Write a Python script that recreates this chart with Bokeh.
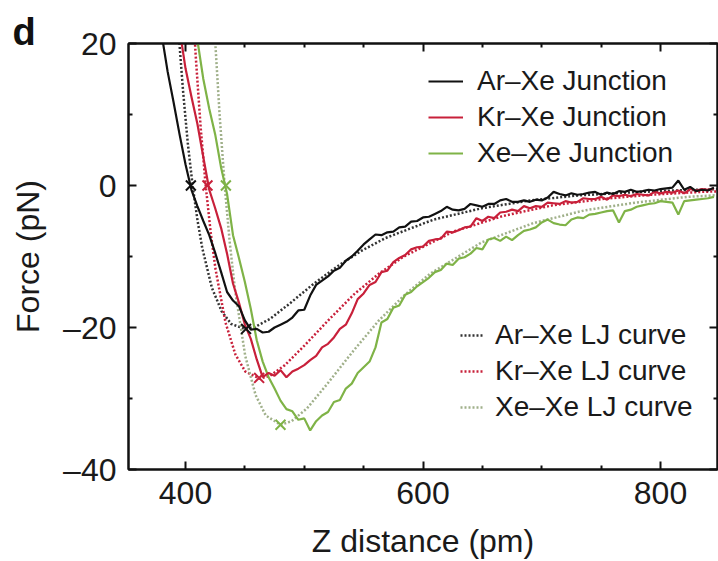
from bokeh.plotting import figure
from bokeh.models import (Range1d, LinearAxis, FixedTicker, Legend, LegendItem,
                          Label, CustomJSTickFormatter)
from bokeh.embed import file_html
from bokeh.resources import INLINE

FONT = "Liberation Sans"

# ---------------- data ----------------
# experimental junction curves, sampled every 5 pm
ar_x = list(range(380, 850, 5))
ar_y = [21.2, 16.0, 11.7, 7.2, 3.0, -0.6, -2.9, -5.0, -7.0, -9.5,
        -12.2, -15.0, -16.2, -17.0, -19.0, -20.3, -20.2, -20.7, -20.6, -20.0,
        -19.6, -19.2, -18.6, -17.6, -17.5, -15.5, -14.0, -13.4, -12.8, -12.0,
        -11.6, -10.6, -10.0, -9.2, -8.3, -7.6, -6.9, -7.0, -6.6, -6.5,
        -5.9, -5.8, -5.1, -5.0, -4.5, -4.4, -4.0, -3.6, -3.0, -3.4,
        -3.5, -3.3, -2.6, -2.8, -3.0, -2.6, -2.6, -2.1, -1.9, -2.3,
        -2.3, -2.1, -2.3, -2.0, -2.1, -1.7, -0.9, -1.2, -1.4, -1.1,
        -1.3, -1.2, -1.0, -0.9, -1.3, -1.0, -1.2, -0.8, -0.9, -0.6,
        -0.9, -0.8, -0.6, -0.7, -0.5, -0.4, -0.3, 0.7, -0.6, -0.2,
        -0.8, -0.6, -0.7, -0.3]

kr_x = list(range(395, 850, 5))
kr_y = [22.0, 16.5, 12.5, 8.7, 4.0, -0.6, -3.2, -6.0, -9.6, -13.8,
        -16.5, -19.6, -21.6, -24.5, -27.0, -26.4, -26.8, -26.0, -27.0, -26.2,
        -25.8, -25.3, -24.6, -24.0, -22.8, -22.3, -21.4, -20.2, -19.6, -18.0,
        -16.0, -15.2, -14.0, -13.6, -12.2, -12.0, -10.8, -10.2, -9.8, -9.0,
        -8.7, -8.6, -7.8, -7.6, -7.5, -6.5, -6.6, -6.3, -5.9, -5.8,
        -4.6, -5.0, -4.4, -4.6, -3.8, -3.7, -3.4, -3.6, -2.9, -3.2,
        -2.9, -3.0, -2.4, -2.5, -2.6, -2.2, -2.4, -2.3, -1.8, -1.9,
        -1.9, -1.6, -2.0, -1.4, -1.5, -1.3, -1.5, -1.2, -1.3, -1.4,
        -0.9, -1.1, -0.9, -1.0, -0.7, -1.1, -0.5, -0.7, -0.5, -0.6,
        -0.4]

xe_x = list(range(410, 850, 5))
xe_y = [20.5, 15.0, 10.8, 7.2, 2.5, -1.2, -7.0, -10.2, -13.6, -17.4,
        -21.8, -24.8, -27.0, -28.6, -30.3, -31.5, -31.8, -33.0, -32.8, -34.5,
        -33.2, -32.4, -31.9, -30.5, -30.2, -28.6, -27.9, -26.4, -25.6, -24.8,
        -22.8, -19.3, -18.8, -17.2, -16.9, -15.4, -15.0, -14.2, -13.6, -13.0,
        -12.2, -11.9, -11.0, -11.2, -10.3, -10.1, -9.6, -8.8, -9.0, -7.6,
        -7.4, -7.8, -7.2, -7.7, -7.0, -6.4, -6.2, -5.9, -5.2, -4.8,
        -5.3, -5.5, -5.6, -4.8, -4.5, -4.6, -4.1, -4.0, -3.8, -3.6,
        -3.5, -5.2, -3.6, -3.4, -3.0, -2.8, -2.6, -2.5, -2.2, -2.3,
        -2.4, -4.1, -2.2, -2.1, -2.0, -1.9, -1.8, -1.6]

# LJ curves
lj_ar_x = [385.7, 389.8, 393.8, 397.9, 401.9, 406.0, 410.1, 414.1, 422.2, 430.4,
           438.5, 450.1, 458.8, 471.0, 487.2, 507.5, 527.8, 548.1, 568.4, 609.0,
           649.6, 690.2, 730.8, 771.4, 812.0, 852.6]
lj_ar_y = [46.5, 33.3, 22.4, 13.4, 6.0, 0.0, -4.9, -8.8, -14.4, -17.7,
           -19.5, -20.2, -19.9, -18.8, -16.7, -13.9, -11.4, -9.2, -7.4, -4.8,
           -3.2, -2.1, -1.4, -1.0, -0.7, -0.5]
lj_kr_x = [396.2, 400.3, 404.5, 408.7, 412.8, 417.0, 421.2, 425.3, 433.7, 442.0,
           450.4, 462.3, 471.2, 483.7, 500.4, 521.3, 542.1, 563.0, 583.8, 625.5,
           667.2, 708.9, 750.6, 792.3, 834.0, 875.7]
lj_kr_y = [62.6, 44.8, 30.1, 18.0, 8.1, 0.0, -6.6, -11.8, -19.3, -23.8,
           -26.2, -27.2, -26.8, -25.3, -22.5, -18.8, -15.3, -12.4, -10.0, -6.5,
           -4.3, -2.8, -1.9, -1.3, -0.9, -0.7]
lj_xe_x = [411.4, 415.7, 420.0, 424.3, 428.7, 433.0, 437.3, 441.7, 450.3, 459.0,
           467.6, 480.1, 489.3, 502.3, 519.6, 541.3, 562.9, 584.6, 606.2, 649.5,
           692.8, 736.1, 779.4, 822.7, 866.0]
lj_xe_y = [77.6, 55.5, 37.3, 22.3, 10.0, 0.0, -8.1, -14.7, -24.0, -29.5,
           -32.4, -33.7, -33.2, -31.4, -27.9, -23.3, -19.0, -15.4, -12.4, -8.0,
           -5.3, -3.5, -2.4, -1.6, -1.2]

# cross markers (zero crossing and force minimum)
cross_ar_x = [404.5, 451.0]
cross_ar_y = [0.0, -20.2]
cross_kr_x = [418.5, 462.0]
cross_kr_y = [0.0, -27.1]
cross_xe_x = [434.0, 480.0]
cross_xe_y = [0.0, -33.7]

X_MIN, X_MAX = 352, 848
Y_MIN, Y_MAX = -40, 20
x_major = [400, 600, 800]
x_minor = [450, 500, 550, 650, 700, 750]
y_major = [-40, -20, 0, 20]
y_minor = [-30, -10, 10]

labels_exp = ["Ar\u2013Xe Junction", "Kr\u2013Xe Junction", "Xe\u2013Xe Junction"]
labels_lj = ["Ar\u2013Xe LJ curve", "Kr\u2013Xe LJ curve", "Xe\u2013Xe LJ curve"]

# ---------------- styles ----------------
C_AX = "#111111"
C_TXT = "#1a1a1a"
C_BLACK = "#111111"
C_RED = "#c8203a"
C_GREEN = "#7fb347"
C_BLACK_LJ = "#333333"
C_RED_LJ = "#c8203a"
C_GREEN_LJ = "#a0b08a"

p = figure(width=718, height=561, output_backend="svg", toolbar_location=None,
           x_range=Range1d(X_MIN, X_MAX), y_range=Range1d(Y_MIN, Y_MAX),
           min_border_left=128, min_border_right=1, min_border_top=43,
           min_border_bottom=92)
p.background_fill_color = "white"
p.border_fill_color = "white"
p.xgrid.visible = False
p.ygrid.visible = False
p.outline_line_color = C_AX
p.outline_line_width = 2

# LJ (dotted) curves
r_lja = p.line(lj_ar_x, lj_ar_y, color=C_BLACK_LJ, line_width=2.5, line_dash="2 2")
r_ljk = p.line(lj_kr_x, lj_kr_y, color=C_RED_LJ, line_width=2.5, line_dash="2 2")
r_ljx = p.line(lj_xe_x, lj_xe_y, color=C_GREEN_LJ, line_width=2.5, line_dash="2 2")

# experimental curves
r_x = p.line(xe_x, xe_y, color=C_GREEN, line_width=2.2)
r_k = p.line(kr_x, kr_y, color=C_RED, line_width=2.2)
r_a = p.line(ar_x, ar_y, color=C_BLACK, line_width=2.2)

p.scatter(cross_ar_x, cross_ar_y, marker="x", size=14, line_width=2, color=C_BLACK)
p.scatter(cross_kr_x, cross_kr_y, marker="x", size=14, line_width=2, color=C_RED)
p.scatter(cross_xe_x, cross_xe_y, marker="x", size=14, line_width=2, color=C_GREEN)

# ---------------- axes ----------------
minus_fmt = CustomJSTickFormatter(code="return tick < 0 ? '\\u2013' + Math.abs(tick) : String(tick);")
blank_fmt = CustomJSTickFormatter(code="return '';")


def style_axis(ax, ticks, minor):
    ax.ticker = FixedTicker(ticks=ticks, minor_ticks=minor)
    ax.axis_line_color = C_AX
    ax.axis_line_width = 2
    ax.major_tick_line_color = C_AX
    ax.minor_tick_line_color = C_AX
    ax.major_tick_line_width = 2
    ax.minor_tick_line_width = 2
    ax.major_tick_in = 8
    ax.major_tick_out = 0
    ax.minor_tick_in = 4
    ax.minor_tick_out = 0
    ax.major_label_text_font = FONT
    ax.major_label_text_font_size = "32px"
    ax.major_label_text_color = C_TXT
    ax.major_label_standoff = 12
    ax.axis_label_text_font = FONT
    ax.axis_label_text_font_size = "32px"
    ax.axis_label_text_font_style = "normal"
    ax.axis_label_text_color = C_TXT


xa = p.xaxis[0]
ya = p.yaxis[0]
style_axis(xa, x_major, x_minor)
style_axis(ya, y_major, y_minor)
ya.formatter = minus_fmt
ya.axis_label = "Force (pN)"
ya.axis_label_standoff = 14
xa.axis_label = "Z distance (pm)"
xa.axis_label_standoff = 16

# mirrored axes on top and right: inward ticks, no labels
for side, tk, mn in (("above", x_major, x_minor), ("right", y_major, y_minor)):
    ax = LinearAxis(formatter=blank_fmt)
    style_axis(ax, tk, mn)
    ax.major_label_text_font_size = "1px"
    ax.major_label_standoff = 0
    p.add_layout(ax, side)

# panel letter (in the top side panel so that it is not clipped)
p.add_layout(Label(x=-116, y=12, x_units="screen", y_units="screen", text="d",
                   text_font=FONT, text_font_size="38px", text_font_style="bold",
                   text_baseline="alphabetic", text_align="left", text_color=C_AX),
             "above")

# ---------------- legends ----------------
leg1 = Legend(items=[LegendItem(label=labels_exp[0], renderers=[r_a]),
                     LegendItem(label=labels_exp[1], renderers=[r_k]),
                     LegendItem(label=labels_exp[2], renderers=[r_x])],
              location=(300, 298))
leg2 = Legend(items=[LegendItem(label=labels_lj[0], renderers=[r_lja]),
                     LegendItem(label=labels_lj[1], renderers=[r_ljk]),
                     LegendItem(label=labels_lj[2], renderers=[r_ljx])],
              location=(332, 44))
for lg, gw, st in ((leg1, 35, 14), (leg2, 23, 12)):
    lg.label_text_font = FONT
    lg.label_text_font_size = "28px"
    lg.label_text_color = C_TXT
    lg.glyph_width = gw
    lg.glyph_height = 36
    lg.label_height = 36
    lg.label_standoff = st
    lg.spacing = 0
    lg.padding = 0
    lg.margin = 0
    lg.border_line_alpha = 0
    lg.background_fill_alpha = 0
    p.add_layout(lg)

open("out.html", "w").write(file_html(p, INLINE))
